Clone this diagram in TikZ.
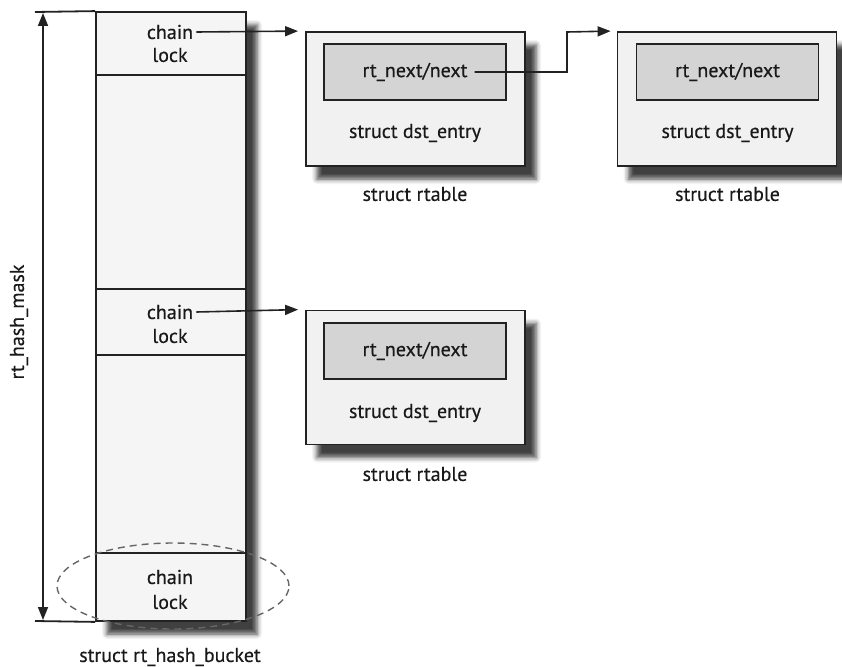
\documentclass[tikz,border=0pt]{standalone}
\usepackage{fontspec}
\setmainfont[FakeBold=0.4]{PT Sans}
\usetikzlibrary{arrows.meta,shadows.blur,shapes.geometric}
\definecolor{bordercol}{HTML}{222222}
\definecolor{outerfill}{HTML}{F1F1F1}
\definecolor{innerfill}{HTML}{D4D4D4}
\definecolor{bucketfill}{HTML}{F5F5F5}
\tikzset{
  shad/.style={blur shadow={shadow xshift=11pt,shadow yshift=-13pt,shadow blur radius=5pt,shadow opacity=75}},
  bucketbox/.style={draw=bordercol,line width=1.8pt,fill=bucketfill,minimum width=150pt,inner sep=0pt},
  cellbox/.style={draw=bordercol,line width=1.8pt,minimum width=150pt,inner sep=0pt},
  outerbox/.style={draw=bordercol,line width=1.8pt,fill=outerfill,minimum width=219pt,minimum height=134pt,inner sep=0pt,shad},
  innerbox/.style={draw=bordercol,line width=1.8pt,fill=innerfill,minimum width=182pt,minimum height=56pt,inner sep=0pt},
  txt/.style={font=\fontsize{20pt}{22pt}\selectfont,text=black!90,inner sep=3pt},
  arr/.style={line width=1.6pt,draw=bordercol,-{Triangle[length=13pt,width=10pt]}},
  dim/.style={line width=1.6pt,draw=bordercol,{Triangle[length=13pt,width=10pt]}-{Triangle[length=13pt,width=10pt]}},
}
\begin{document}
\begin{tikzpicture}[x=1pt,y=-1pt]
\useasboundingbox (0,0) rectangle (842,666);
% bucket column
\node[bucketbox,minimum height=609pt,shad] (bucket) at (171,316.5) {};
\node[cellbox,minimum height=63pt] (cell1) at (171,43.5) {};
\node[cellbox,minimum height=66pt] (cell2) at (171,322) {};
\node[cellbox,minimum height=68pt] (cell3) at (171,587) {};
\coordinate (topl) at (35,12);
\coordinate (botl) at (35,621);
\draw[line width=1.8pt,bordercol] (topl) -- (bucket.north west);
\draw[line width=1.8pt,bordercol] (botl) -- (bucket.south west);
\coordinate (dtop) at (43,13);
\coordinate (dbot) at (43,620);
\draw[dim] (dtop) -- (dbot);
\node[txt,rotate=90] (mask) at (19,322) {rt\_hash\_mask};
% cell texts
\node[txt] (chain1) at (170,32) {chain};
\node[txt] (lock1) at (170,55) {lock};
\node[txt] (chain2) at (170,312) {chain};
\node[txt] (lock2) at (170,336) {lock};
\node[txt] (chain3) at (170,577) {chain};
\node[txt] (lock3) at (170,602) {lock};
\node[draw=black!60,dash pattern=on 7pt off 5pt,line width=1.4pt,ellipse,minimum width=232pt,minimum height=86pt,inner sep=0pt] (sel) at (173,586) {};
\node[txt] (bucketlbl) at (170,657) {struct rt\_hash\_bucket};
% rtable 1
\node[outerbox] (rt1) at (415.5,99) {};
\node[innerbox] (nb1) at (415,72) {};
\node[txt] (nx1) at (415,72) {rt\_next/next};
\node[txt] (de1) at (415,133) {struct dst\_entry};
\node[txt] (rl1) at (415,194) {struct rtable};
% rtable 2
\node[outerbox] (rt2) at (727,99) {};
\node[innerbox] (nb2) at (727.5,72) {};
\node[txt] (nx2) at (727.5,72) {rt\_next/next};
\node[txt] (de2) at (727.5,133) {struct dst\_entry};
\node[txt] (rl2) at (727.5,194) {struct rtable};
% rtable 3
\node[outerbox] (rt3) at (415.5,377.5) {};
\node[innerbox] (nb3) at (415,351) {};
\node[txt] (nx3) at (415,351) {rt\_next/next};
\node[txt] (de3) at (415,413) {struct dst\_entry};
\node[txt] (rl3) at (415,474) {struct rtable};
% connectors
\draw[arr] (chain1.east) -- ([xshift=-7pt]rt1.north west);
\draw[arr] (chain2.east) -- ([xshift=-7pt]rt3.north west);
\coordinate (bend) at (567,32);
\draw[arr] ([xshift=4pt]nx1.east) -| (bend) -- ([xshift=-6pt]rt2.north west);
\end{tikzpicture}
\end{document}
